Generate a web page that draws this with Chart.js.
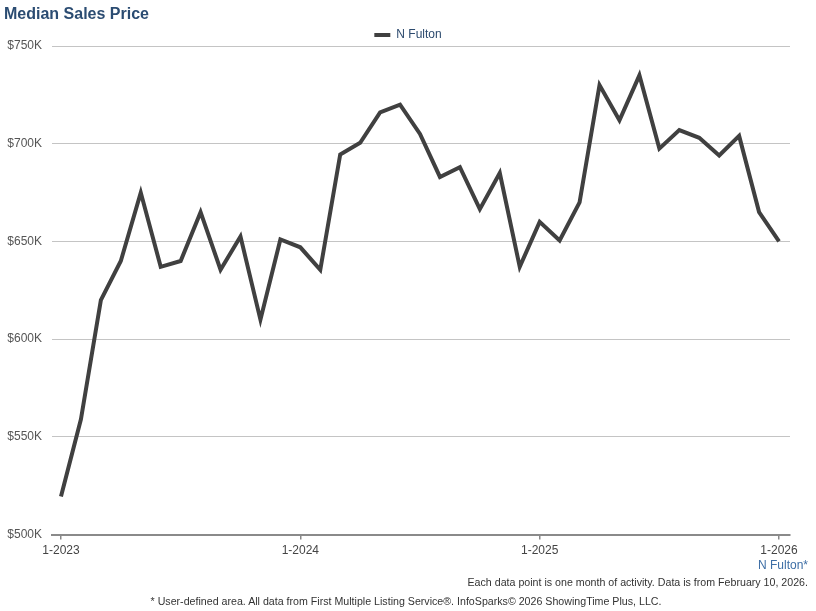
<!DOCTYPE html>
<html>
<head>
<meta charset="utf-8">
<script src="https://cdn.jsdelivr.net/npm/chart.js@4.4.1/dist/chart.umd.min.js"></script>
<style>
  html, body { margin: 0; padding: 0; background: #fff; }
  body { width: 816px; height: 611px; position: relative; overflow: hidden; font-family: "Liberation Sans", Arial, sans-serif; }
  #wrap { position: absolute; left: 0; top: 0; width: 816px; height: 611px; }
  .title { position: absolute; left: 4px; top: 5px; font-size: 16px; font-weight: bold; color: #2b4c72; }
  .area { position: absolute; right: 8px; top: 558px; font-size: 12px; color: #3d6ea5; }
  .note1 { position: absolute; right: 8px; top: 576px; font-size: 10.65px; color: #333; }
  .note2 { position: absolute; left: 0; width: 812px; text-align: center; top: 595px; font-size: 10.65px; color: #333; }
</style>
</head>
<body>
<div id="wrap"><canvas id="c" width="816" height="611"></canvas></div>
<div class="title">Median Sales Price</div>
<div class="area">N Fulton*</div>
<div class="note1">Each data point is one month of activity. Data is from February 10, 2026.</div>
<div class="note2">* User-defined area. All data from First Multiple Listing Service®. InfoSparks© 2026 ShowingTime Plus, LLC.</div>
<script>
const months = [
  "1-2023","2-2023","3-2023","4-2023","5-2023","6-2023","7-2023","8-2023","9-2023","10-2023","11-2023","12-2023",
  "1-2024","2-2024","3-2024","4-2024","5-2024","6-2024","7-2024","8-2024","9-2024","10-2024","11-2024","12-2024",
  "1-2025","2-2025","3-2025","4-2025","5-2025","6-2025","7-2025","8-2025","9-2025","10-2025","11-2025","12-2025",
  "1-2026"
];
const nFulton = [
  519500, 559000, 620000, 640000, 675000, 637000, 640000, 665000, 635500, 652500, 610000, 651000,
  647000, 635500, 694500, 700500, 716000, 720000, 705000, 683000, 688000, 666500, 685000, 637000,
  660000, 650500, 670000, 730000, 712000, 735000, 697500, 707000, 703000, 694000, 704000, 665000,
  650000
];
const yTicks = [500000, 550000, 600000, 650000, 700000, 750000];
const xTickIdx = [0, 12, 24, 36];
const seriesName = "N Fulton";

const FONT = '"Liberation Sans", Arial, sans-serif';
const points = nFulton.map((v, i) => ({ x: i, y: v }));

const legendShift = {
  id: 'legendShift',
  afterLayout(chart) {
    const lg = chart.legend;
    if (lg) { lg.left += 13; lg.right += 13; lg.top += 5; lg.bottom += 5; }
  }
};

new Chart(document.getElementById('c'), {
  type: 'line',
  data: {
    datasets: [{
      label: seriesName,
      data: points,
      borderColor: '#404040',
      backgroundColor: '#404040',
      borderWidth: 4,
      pointRadius: 0,
      pointStyle: 'line',
      tension: 0,
      fill: false
    }]
  },
  plugins: [legendShift],
  options: {
    responsive: false,
    animation: false,
    layout: { padding: { left: 0, right: 26, top: 24, bottom: 49 } },
    plugins: {
      legend: {
        display: true,
        position: 'top',
        labels: {
          font: { family: FONT, size: 12 },
          color: '#2c4a6e',
          usePointStyle: true,
          pointStyleWidth: 16,
          padding: 0
        }
      },
      tooltip: { enabled: false }
    },
    scales: {
      x: {
        type: 'linear',
        min: -0.45,
        max: 36.55,
        afterBuildTicks: s => { s.ticks = xTickIdx.map(v => ({ value: v })); },
        ticks: {
          autoSkip: false,
          maxRotation: 0,
          padding: 4,
          font: { family: FONT, size: 12 },
          color: '#444',
          callback: v => months[v]
        },
        grid: { drawOnChartArea: false, drawTicks: true, tickLength: 5, color: '#888', lineWidth: 1.5 },
        border: { display: true, color: '#8a8a8a', width: 2 }
      },
      y: {
        min: 500000,
        max: 750000,
        afterBuildTicks: s => { s.ticks = yTicks.map(v => ({ value: v })); },
        afterFit: s => { s.width = 52; },
        ticks: {
          padding: 10,
          font: { family: FONT, size: 12 },
          color: '#555',
          callback: v => '$' + (v / 1000) + 'K'
        },
        grid: { drawTicks: false, color: '#c4c4c4', lineWidth: 1 },
        border: { display: false }
      }
    }
  }
});
</script>
</body>
</html>
